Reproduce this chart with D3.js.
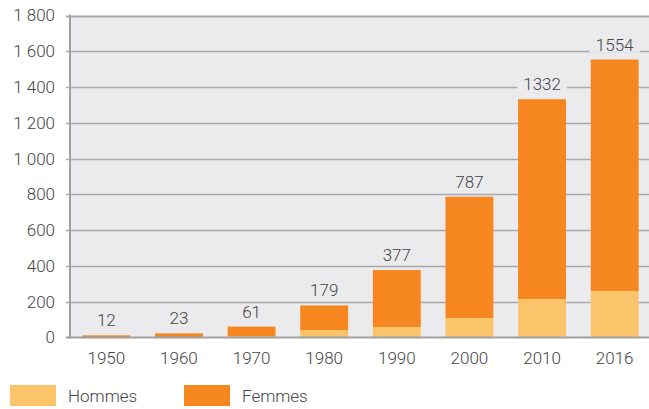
<!DOCTYPE html>
<html>
<head>
<meta charset="utf-8">
<script src="https://cdn.jsdelivr.net/npm/d3@7"></script>
<style>
  body { margin: 0; background: #fff; }
  text { font-family: Roboto, "Noto Sans", sans-serif; fill: #444; font-size: 17px; font-weight: 300; }
</style>
</head>
<body>
<svg id="chart" width="649" height="409"></svg>
<script>
// data
const years = ['1950', '1960', '1970', '1980', '1990', '2000', '2010', '2016'];
const totals = [12, 23, 61, 179, 377, 787, 1332, 1554];
const hommes = [1, 2, 6, 42, 59, 109, 215, 260];
const yTicks = [0, 200, 400, 600, 800, 1000, 1200, 1400, 1600, 1800];
const seriesNames = ['Hommes', 'Femmes'];
const colors = ['#fcc46a', '#f58620'];

const svg = d3.select('#chart');
const plotL = 70, plotR = 651, plotT = 15.5, plotB = 337.5;

const x = d3.scaleBand()
  .domain(years)
  .range([plotL, plotR])
  .paddingInner(0.34)
  .paddingOuter(0.17);

const y = d3.scaleLinear()
  .domain([0, 1800])
  .range([plotB, plotT]);

const fmt = d => d3.format(',')(d).replace(/,/g, '\u00a0');

// plot background
svg.append('rect')
  .attr('x', plotL)
  .attr('y', plotT)
  .attr('width', 649 - plotL)
  .attr('height', plotB - plotT)
  .attr('fill', '#ebebed');

// gridlines
svg.append('g')
  .selectAll('line')
  .data(yTicks.filter(d => d > 0))
  .join('line')
  .attr('x1', plotL - 4)
  .attr('x2', 649)
  .attr('y1', d => Math.round(y(d)) + 0.5)
  .attr('y2', d => Math.round(y(d)) + 0.5)
  .attr('stroke', '#a9a9ab')
  .attr('stroke-width', d => d === 1800 ? 2 : 1.5);

// y tick labels
svg.append('g')
  .selectAll('text')
  .data(yTicks)
  .join('text')
  .attr('x', 55)
  .attr('y', d => y(d))
  .attr('dy', '0.35em')
  .attr('text-anchor', 'end')
  .text(fmt);

// stacked bars
const table = years.map((yr, i) => ({ year: yr, Hommes: hommes[i], Femmes: totals[i] - hommes[i] }));
const stack = d3.stack().keys(seriesNames)(table);

svg.append('g')
  .selectAll('g')
  .data(stack)
  .join('g')
  .attr('fill', (d, i) => colors[i])
  .selectAll('rect')
  .data(d => d)
  .join('rect')
  .attr('x', d => x(d.data.year))
  .attr('width', x.bandwidth())
  .attr('y', d => y(d[1]))
  .attr('height', d => y(d[0]) - y(d[1]));

// total labels with knockout background
const lab = svg.append('g')
  .selectAll('g')
  .data(years.map((yr, i) => ({ year: yr, v: totals[i] })))
  .join('g')
  .attr('transform', d => `translate(${x(d.year) + x.bandwidth() / 2},${y(d.v) - 9})`);

lab.append('rect')
  .attr('x', d => -(String(d.v).length * 10) / 2 - 5)
  .attr('y', -13)
  .attr('width', d => String(d.v).length * 10 + 10)
  .attr('height', 15)
  .attr('fill', '#ebebed');

lab.append('text')
  .attr('text-anchor', 'middle')
  .text(d => d.v);

// left axis line and zero baseline
svg.append('line')
  .attr('x1', plotL).attr('x2', plotL)
  .attr('y1', plotT - 1).attr('y2', plotB)
  .attr('stroke', '#a0a0a2')
  .attr('stroke-width', 2);

svg.append('line')
  .attr('x1', plotL - 4).attr('x2', 649)
  .attr('y1', plotB).attr('y2', plotB)
  .attr('stroke', '#a0a0a2')
  .attr('stroke-width', 2);

// x labels
svg.append('g')
  .selectAll('text')
  .data(years)
  .join('text')
  .attr('x', d => x(d) + x.bandwidth() / 2)
  .attr('y', 364)
  .attr('text-anchor', 'middle')
  .text(d => d);

// legend
const legX = [10, 184];
const leg = svg.append('g')
  .selectAll('g')
  .data(seriesNames)
  .join('g')
  .attr('transform', (d, i) => `translate(${legX[i]},385)`);

leg.append('rect')
  .attr('width', 46)
  .attr('height', 21)
  .attr('fill', (d, i) => colors[i]);

leg.append('text')
  .attr('x', 58)
  .attr('y', 11)
  .attr('dy', '0.35em')
  .text(d => d);
</script>
</body>
</html>
